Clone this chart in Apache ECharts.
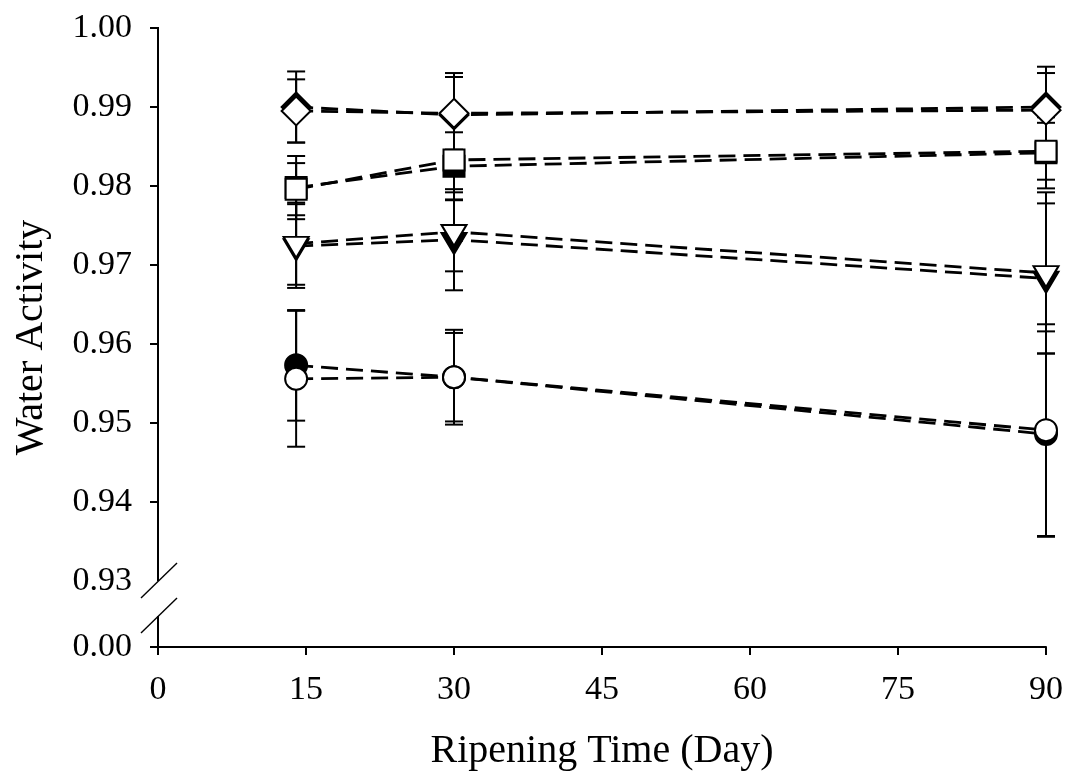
<!DOCTYPE html>
<html>
<head>
<meta charset="utf-8">
<script src="https://cdn.jsdelivr.net/npm/echarts@6/dist/echarts.min.js"></script>
<style>
html,body{margin:0;padding:0;background:#fff;}
#chart{width:1069px;height:779px;}
</style>
</head>
<body>
<div id="chart"></div>
<script>
// ---- data ----
const days = [14, 30, 90];
const circleFilled = [0.9573, 0.9558, 0.9486];
const circleFilledErr = [0.0070, 0.0060, 0.0130];
const circleOpen = [0.9556, 0.9558, 0.9491];
const circleOpenErr = [0.0086, 0.0056, 0.0134];
const triFilled = [0.9724, 0.9732, 0.9683];
const triFilledErr = [0.0053, 0.0064, 0.0095];
const triOpen = [0.9727, 0.9742, 0.9690];
const triOpenErr = [0.0052, 0.0050, 0.0102];
const sqFilled = [0.9798, 0.9825, 0.9842];
const sqFilledErr = [0.0040, 0.0043, 0.0045];
const sqOpen = [0.9796, 0.9833, 0.9844];
const sqOpenErr = [0.0033, 0.0050, 0.0036];
const diaFilled = [0.9900, 0.9890, 0.9900];
const diaFilledErr = [0.0045, 0.0053, 0.0051];
const diaOpen = [0.9895, 0.9892, 0.9896];
const diaOpenErr = [0.0040, 0.0046, 0.0047];
const yTickValues = [0.00, 0.93, 0.94, 0.95, 0.96, 0.97, 0.98, 0.99, 1.00];
const xTicks = [0, 15, 30, 45, 60, 75, 90];

// ---- axis break mapping (0.00 is drawn just below 0.93) ----
const AXIS_MIN = 0.92165;
const mapY = v => (v < 0.5 ? AXIS_MIN : v);

const FONT = "'Liberation Serif', 'Times New Roman', serif";
const seriesDefs = [
  {name:'circleFilled', vals:circleFilled, err:circleFilledErr, sym:'circle', size:22, fill:'#000'},
  {name:'triFilled', vals:triFilled, err:triFilledErr, sym:'path://M0,0L26,0L13,22Z', size:[25,21], off:[0,3.7], fill:'#000'},
  {name:'sqFilled', vals:sqFilled, err:sqFilledErr, sym:'rect', size:21, fill:'#000'},
  {name:'diaFilled', vals:diaFilled, err:diaFilledErr, sym:'diamond', size:29, fill:'#000'},
  {name:'circleOpen', vals:circleOpen, err:circleOpenErr, sym:'circle', size:22, fill:'#fff'},
  {name:'triOpen', vals:triOpen, err:triOpenErr, sym:'path://M0,0L26,0L13,22Z', size:[25,21], off:[0,3.7], fill:'#fff'},
  {name:'sqOpen', vals:sqOpen, err:sqOpenErr, sym:'rect', size:21, fill:'#fff'},
  {name:'diaOpen', vals:diaOpen, err:diaOpenErr, sym:'diamond', size:29, fill:'#fff'}
];

const errData = [];
seriesDefs.forEach(s => days.forEach((d, i) => errData.push([d, s.vals[i], s.err[i]])));

function renderErr(params, api) {
  const x = api.value(0), y = api.value(1), e = api.value(2);
  const t = api.coord([x, y + e]);
  const b = api.coord([x, y - e]);
  const h = 9;
  const st = {stroke:'#000', lineWidth:2};
  return {type:'group', children:[
    {type:'line', shape:{x1:t[0], y1:t[1], x2:b[0], y2:b[1]}, style:st},
    {type:'line', shape:{x1:t[0]-h, y1:t[1], x2:t[0]+h, y2:t[1]}, style:st},
    {type:'line', shape:{x1:b[0]-h, y1:b[1], x2:b[0]+h, y2:b[1]}, style:st}
  ]};
}

const series = [{
  type:'custom', name:'err', renderItem:renderErr, data:errData, z:1, silent:true,
  encode:{x:0, y:1}
}];
seriesDefs.forEach(s => {
  series.push({
    type:'line', name:s.name + 'Line', data:days.map((d,i)=>[d, s.vals[i]]),
    symbol:'none', z:2, silent:true,
    lineStyle:{color:'#000', width:2.8, type:[17,8]}
  });
});
seriesDefs.forEach(s => {
  series.push({
    type:'scatter', name:s.name, data:days.map((d,i)=>[d, s.vals[i]]),
    symbol:s.sym, symbolSize:s.size, symbolOffset:s.off || [0,0], z:3, silent:true,
    itemStyle:{color:s.fill, borderColor:'#000', borderWidth:2, opacity:1}
  });
});

const option = {
  animation:false,
  backgroundColor:'#fff',
  textStyle:{fontFamily:FONT},
  grid:{left:158, right:23, top:28, bottom:132, containLabel:false, outerBoundsMode:'none'},
  xAxis:{
    type:'value', min:0, max:90, interval:15,
    name:'Ripening Time (Day)', nameLocation:'middle', nameGap:84,
    nameTextStyle:{fontFamily:FONT, fontSize:40, color:'#000'},
    axisLine:{show:true, onZero:false, lineStyle:{color:'#000', width:2}},
    axisTick:{show:true, inside:false, length:8, lineStyle:{color:'#000', width:2}},
    axisLabel:{fontFamily:FONT, fontSize:34, color:'#000', margin:26,
      formatter:v => xTicks.indexOf(v) >= 0 ? String(v) : ''},
    splitLine:{show:false}
  },
  yAxis:{
    type:'value', min:AXIS_MIN, max:1.0,
    name:'Water Activity', nameLocation:'middle', nameGap:107, nameRotate:90,
    nameTextStyle:{fontFamily:FONT, fontSize:40, color:'#000'},
    axisLine:{show:false},
    axisTick:{show:true, inside:false, length:8, lineStyle:{color:'#000', width:2},
      customValues:yTickValues.filter(v => v !== 0.93).map(mapY)},
    axisLabel:{fontFamily:FONT, fontSize:34, color:'#000', margin:26,
      customValues:yTickValues.map(mapY),
      formatter:v => (v < 0.925 ? '0.00' : v.toFixed(2))},
    splitLine:{show:false}
  },
  series:series
};

const chart = echarts.init(document.getElementById('chart'), null, {renderer:'canvas'});
chart.setOption(option);

// axis line with break marks
const pTop = chart.convertToPixel({gridIndex:0}, [0, 1.0]);
const p93 = chart.convertToPixel({gridIndex:0}, [0, 0.93]);
const p0 = chart.convertToPixel({gridIndex:0}, [0, AXIS_MIN]);
const ax = pTop[0];
const yb1 = p93[1];
const yb2 = p93[1] + (p0[1] - p93[1]) * 0.53;
const lineSt = {stroke:'#000', lineWidth:2};
const slashSt = {stroke:'#000', lineWidth:1.4};
chart.setOption({
  graphic:[
    {type:'line', silent:true, z:10, shape:{x1:ax, y1:pTop[1]-1, x2:ax, y2:yb1}, style:lineSt},
    {type:'line', silent:true, z:10, shape:{x1:ax, y1:yb2, x2:ax, y2:p0[1]}, style:lineSt},
    {type:'line', silent:true, z:10, shape:{x1:ax-17, y1:yb1+17, x2:ax+19, y2:yb1-18}, style:slashSt},
    {type:'line', silent:true, z:10, shape:{x1:ax-17, y1:yb2+17, x2:ax+19, y2:yb2-18}, style:slashSt}
  ]
});
</script>
</body>
</html>
